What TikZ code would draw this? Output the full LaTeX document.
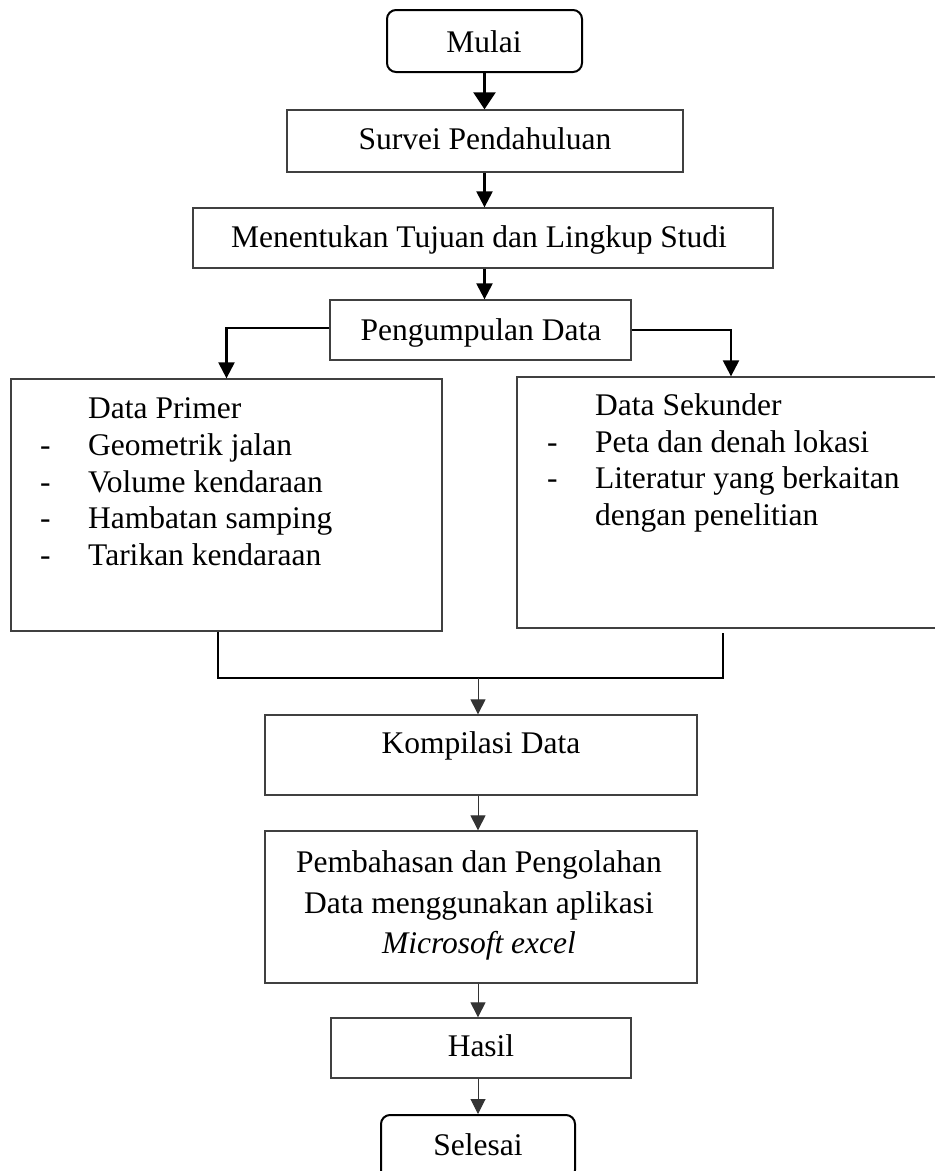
\documentclass[tikz,border=0pt]{standalone}
\usepackage{fontspec}
\setmainfont{Liberation Serif}
\usetikzlibrary{arrows.meta}
\begin{document}
\begin{tikzpicture}[x=1pt,y=-1pt,
  box/.style={draw=black!75, line width=1.3pt, inner sep=0pt, rectangle},
  term/.style={draw=black, line width=2pt, inner sep=0pt, rectangle, rounded corners=9pt},
  txt/.style={inner sep=0pt, anchor=base, font=\fontsize{31.5}{37}\selectfont},
  txtl/.style={txt, anchor=base west},
  arrthick/.style={-{Triangle[length=16pt,width=16pt]}, line width=2.3pt},
  arrwide/.style={-{Triangle[length=17pt,width=22pt]}, line width=2.3pt},
  arrthin/.style={-{Triangle[length=15pt,width=15pt]}, line width=1pt, draw=black!80},
  thickline/.style={line width=2.5pt}
]
\useasboundingbox (0,0) rectangle (935,1171);

% boxes
\node[term, minimum width=195pt, minimum height=62pt] (mulai) at (484.5,41) {};
\node[box, minimum width=396pt, minimum height=62pt] (survei) at (485,141) {};
\node[box, minimum width=580pt, minimum height=60pt] (tujuan) at (483,238) {};
\node[box, minimum width=301pt, minimum height=60pt] (kumpul) at (480.5,330) {};
\node[box, minimum width=431pt, minimum height=252pt] (primer) at (226.5,505) {};
\node[box, minimum width=428pt, minimum height=251pt] (sekunder) at (731,502.5) {};
\node[box, minimum width=432pt, minimum height=80pt] (kompilasi) at (481,755) {};
\node[box, minimum width=432pt, minimum height=152pt] (bahas) at (481,907) {};
\node[box, minimum width=300pt, minimum height=60pt] (hasil) at (481,1048) {};
\node[term, minimum width=194pt, minimum height=64pt] (selesai) at (478,1147) {};

% texts
\node[txt] (t-mulai) at (484,52) {Mulai};
\node[txt] (t-survei) at (485,149) {Survei Pendahuluan};
\node[txt] (t-tujuan) at (479,247) {Menentukan Tujuan dan Lingkup Studi};
\node[txt] (t-kumpul) at (481,340) {Pengumpulan Data};

\node[txtl] (p0) at (88,418) {Data Primer};
\node[txtl] (pd1) at (40,455) {-};
\node[txtl] (p1) at (88,455) {Geometrik jalan};
\node[txtl] (pd2) at (40,492) {-};
\node[txtl] (p2) at (88,492) {Volume kendaraan};
\node[txtl] (pd3) at (40,528) {-};
\node[txtl] (p3) at (88,528) {Hambatan samping};
\node[txtl] (pd4) at (40,565) {-};
\node[txtl] (p4) at (88,565) {Tarikan kendaraan};

\node[txtl] (s0) at (595,415) {Data Sekunder};
\node[txtl] (sd1) at (547,452) {-};
\node[txtl] (s1) at (595,452) {Peta dan denah lokasi};
\node[txtl] (sd2) at (547,488) {-};
\node[txtl] (s2) at (595,488) {Literatur yang berkaitan};
\node[txtl] (s3) at (595,525) {dengan penelitian};

\node[txt] (t-kompilasi) at (481,753) {Kompilasi Data};
\node[txt] (b1) at (479,872) {Pembahasan dan Pengolahan};
\node[txt] (b2) at (479,913) {Data menggunakan aplikasi};
\node[txt] (b3) at (479,953) {\itshape Microsoft excel};
\node[txt] (t-hasil) at (481,1056) {Hasil};
\node[txt] (t-selesai) at (478,1155) {Selesai};

% connectors
\draw[arrwide] (mulai.south) -- (survei.north -| mulai.south);
\draw[arrthick] (survei.south -| mulai.south) -- (tujuan.north -| mulai.south);
\draw[arrthick] (tujuan.south -| mulai.south) -- (kumpul.north -| mulai.south);
\draw[arrthick] ([yshift=2pt]kumpul.west) -| (primer.north);
\draw[arrthick] (kumpul.east) -| (sekunder.north);

\coordinate (jl) at (218,678);
\coordinate (jr) at (723,678);
\coordinate (jm) at (478,678);
\draw[thickline] (primer.south -| jl) -- (jl) -- (jr) -- ([yshift=-4pt]sekunder.south -| jr);
\draw[arrthin] (jm) -- (kompilasi.north -| jm);
\draw[arrthin] (kompilasi.south -| jm) -- (bahas.north -| jm);
\draw[arrthin] (bahas.south -| jm) -- (hasil.north -| jm);
\draw[arrthin] (hasil.south -| jm) -- (selesai.north -| jm);
\end{tikzpicture}
\end{document}
